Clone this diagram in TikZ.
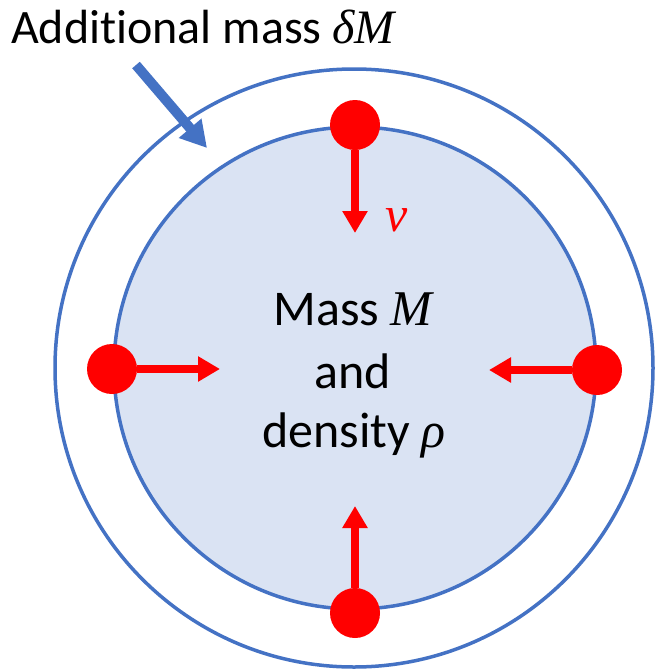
\documentclass[tikz,border=0pt]{standalone}
\usepackage{fontspec}
\setmainfont{Carlito}[Ligatures={NoCommon}]
\newfontfamily\mfont{Liberation Serif}
\usetikzlibrary{arrows.meta}
\definecolor{obl}{HTML}{4472C4}
\definecolor{ofill}{HTML}{DAE3F3}
\newcommand{\mi}[1]{{\mfont\itshape #1}}
\begin{document}
\begin{tikzpicture}[x=1pt,y=-1pt,
  dotnode/.style={circle,fill=red,minimum size=50pt,inner sep=0pt},
  redarrow/.style={draw=red,line width=8pt,-{Triangle[width=24pt,length=22pt]}},
  bluearrow/.style={draw=obl,line width=10pt,-{Triangle[width=28pt,length=26pt]}},
  lbl/.style={font=\fontsize{50}{60}\selectfont,inner sep=0pt,anchor=base}]
\useasboundingbox (0,0) rectangle (654,672);
% circles
\draw[obl,line width=3.5pt] (354,368) circle[radius=299pt];
\draw[obl,line width=3.5pt,fill=ofill] (355,368) circle[radius=241pt];
% dots
\node[dotnode] (dtop) at (355,125) {};
\node[dotnode] (dleft) at (112,369) {};
\node[dotnode] (dright) at (597,370) {};
\node[dotnode] (dbot) at (355,613) {};
% arrow tips
\coordinate (ttop) at (355,233);
\coordinate (tleft) at (220,369);
\coordinate (tright) at (489,370);
\coordinate (tbot) at (355,506);
\draw[redarrow] (dtop) -- (ttop);
\draw[redarrow] (dleft) -- (tleft);
\draw[redarrow] (dright) -- (tright);
\draw[redarrow] (dbot) -- (tbot);
% blue pointer
\coordinate (pstart) at (136,65);
\coordinate (ptip) at (207,148);
\draw[bluearrow] (pstart) -- (ptip);
% texts
\node[lbl,anchor=base west,font=\fontsize{48}{56}\selectfont] (title) at (11,43) {Additional mass \mi{δM}};
\node[lbl,anchor=base west,text=red] (vel) at (385,231) {\mi{v}};
\node[lbl] (l1) at (353,325) {Mass \mi{M}};
\node[lbl] (l2) at (353,388) {and};
\node[lbl] (l3) at (354,447) {density \mi{ρ}};
\end{tikzpicture}
\end{document}
